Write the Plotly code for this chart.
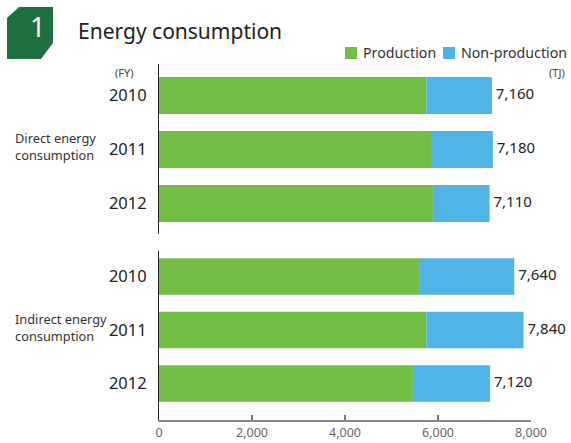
import plotly.graph_objects as go

years = ["2010", "2011", "2012"]
series_names = ["Production", "Non-production"]
direct_production = [5750, 5850, 5890]
direct_nonproduction = [1410, 1330, 1220]
direct_totals = [7160, 7180, 7110]
indirect_production = [5590, 5750, 5460]
indirect_nonproduction = [2050, 2090, 1660]
indirect_totals = [7640, 7840, 7120]
x_ticks = [0, 2000, 4000, 6000, 8000]
x_ticklabels = ["0", "2,000", "4,000", "6,000", "8,000"]

GREEN = "#72BE44"
BLUE = "#50B5E6"
FONT = "Noto Sans"
W, H = 571, 443
L, R, T, B = 159, 40, 64, 23
PW = W - L - R
PH = H - T - B


def px(x):
    return (x - L) / PW


def py(y):
    return (H - B - y) / PH


fig = go.Figure()

groups = [
    ("y", "x", direct_production, direct_nonproduction, direct_totals),
    ("y2", "x2", indirect_production, indirect_nonproduction, indirect_totals),
]
for yref, xref, prod, nonprod, tot in groups:
    fig.add_trace(go.Bar(y=years, x=prod, orientation="h", marker_color=GREEN,
                         marker_line_width=0, name=series_names[0], showlegend=False,
                         xaxis=xref, yaxis=yref, hoverinfo="skip"))
    fig.add_trace(go.Bar(y=years, x=nonprod, orientation="h", marker_color=BLUE,
                         marker_line_width=0, name=series_names[1], showlegend=False,
                         xaxis=xref, yaxis=yref, base=prod, hoverinfo="skip"))
    fig.add_trace(go.Scatter(y=years, x=tot, mode="text", cliponaxis=False,
                             text=[" " + f"{v:,}" for v in tot], textposition="middle right",
                             textfont=dict(size=15, color="#222", family=FONT),
                             showlegend=False, xaxis=xref, yaxis=yref, hoverinfo="skip"))

ylab = dict(type="category", showline=True, linecolor="#222", linewidth=1,
            ticks="", showgrid=False, zeroline=False, automargin=False,
            tickfont=dict(size=16.5, color="#222", family=FONT), ticklabelstandoff=8)

fig.update_layout(
    width=W, height=H, margin=dict(l=L, r=R, t=T, b=B, autoexpand=False),
    paper_bgcolor="white", plot_bgcolor="white",
    barmode="overlay", bargap=0.315, showlegend=False,
    font=dict(family=FONT, color="#222"),
    xaxis=dict(domain=[0, 1], anchor="y", range=[0, 8000], visible=False),
    yaxis=dict(domain=[py(234), 1], anchor="x", range=[2.565, -0.583], **ylab),
    xaxis2=dict(domain=[0, 1], anchor="y2", range=[0, 8000], tickvals=x_ticks,
                ticktext=x_ticklabels, ticks="inside", ticklen=5, tickcolor="#777",
                tickwidth=1.5, showline=True, linecolor="#888", linewidth=2,
                showgrid=False, zeroline=False, automargin=False,
                tickfont=dict(size=12.5, color="#666", family=FONT)),
    yaxis2=dict(domain=[0, py(250.5)], anchor="x2", range=[2.682, -0.486], **ylab),
)


def note(x, y, text, size, color="#222", xanchor="center", align="center"):
    fig.add_annotation(x=px(x), y=py(y), xref="paper", yref="paper", text=text,
                       xanchor=xanchor, yanchor="middle", align=align, showarrow=False,
                       font=dict(size=size, color=color, family=FONT))


# title icon
ix = [19, 53, 53, 41, 7, 7]
iy = [7, 7, 43, 59, 59, 18]
path = "M " + " L ".join(f"{px(a)},{py(b)}" for a, b in zip(ix, iy)) + " Z"
fig.add_shape(type="path", path=path, xref="paper", yref="paper",
              fillcolor="#1F7040", line_width=0)
note(37, 27, "1", 27, "white")
note(76, 31, "Energy consumption", 21, "#222", xanchor="left")

# legend drawn in the header
for (sx, tx), name, col in zip([(345, 361), (443, 459)], series_names, [GREEN, BLUE]):
    fig.add_shape(type="rect", xref="paper", yref="paper", x0=px(sx), x1=px(sx + 12),
                  y0=py(59), y1=py(47), fillcolor=col, line_width=0)
    note(tx, 53, name, 14.2, "#333", xanchor="left")

note(124, 72, "(FY)", 11, "#444")
note(557, 72, "(TJ)", 11, "#444")
note(13, 146, "Direct energy<br>consumption", 12.8, "#333", xanchor="left", align="left")
note(13, 327, "Indirect energy<br>consumption", 12.8, "#333", xanchor="left", align="left")

fig.write_html("out.html", config={"displayModeBar": False},
               post_script="document.body.style.margin='0';")
